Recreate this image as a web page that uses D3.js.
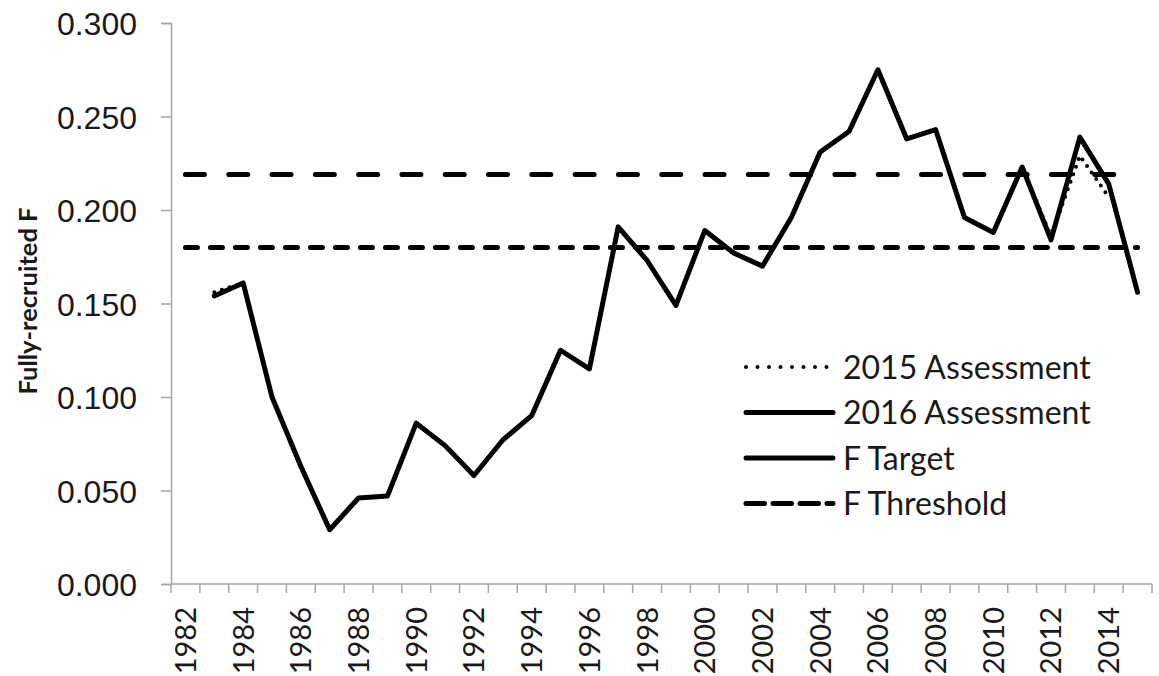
<!DOCTYPE html>
<html>
<head>
<meta charset="utf-8">
<script src="https://cdn.jsdelivr.net/npm/d3@7"></script>
<style>
  html, body { margin: 0; padding: 0; background: #fff; }
  svg { display: block; font-family: Lato, 'Open Sans', sans-serif; }
</style>
</head>
<body>
<svg id="chart" width="1159" height="676"></svg>
<script>
  'use strict';

  // Years on the category axis (labels every second year).
  var years = d3.range( 1982, 2016 );

  var years2016 = d3.range( 1983, 2016 ),
      f2016 = [ 0.154, 0.161, 0.100, 0.063, 0.029, 0.046, 0.047, 0.086, 0.074, 0.058,
                0.077, 0.090, 0.125, 0.115, 0.191, 0.173, 0.149, 0.189, 0.177, 0.170,
                0.196, 0.231, 0.242, 0.275, 0.238, 0.243, 0.196, 0.188, 0.223, 0.184,
                0.239, 0.214, 0.156 ];

  var years2015 = d3.range( 1983, 2015 ),
      f2015 = [ 0.156, 0.161, 0.100, 0.063, 0.029, 0.046, 0.047, 0.086, 0.074, 0.058,
                0.077, 0.090, 0.125, 0.115, 0.191, 0.173, 0.149, 0.189, 0.177, 0.170,
                0.196, 0.231, 0.242, 0.275, 0.238, 0.243, 0.196, 0.188, 0.223, 0.186,
                0.229, 0.207 ];

  var fTarget    = 0.180,
      fThreshold = 0.219;

  var yTicks = [ 0, 0.05, 0.10, 0.15, 0.20, 0.25, 0.30 ];

  var legendLabels = [ '2015 Assessment', '2016 Assessment', 'F Target', 'F Threshold' ];

  var plotLeft = 171, plotRight = 1152, plotTop = 23, plotBottom = 584;
  var ink = '#1a1a1a', axisGrey = '#a6a6a6';

  var svg = d3.select( '#chart' );

  var x = d3.scaleBand()
    .domain( years )
    .range( [ plotLeft, plotRight ] );

  var y = d3.scaleLinear()
    .domain( [ 0, 0.3 ] )
    .range( [ plotBottom, plotTop ] );

  function cx( yr ) {
    return x( yr ) + x.bandwidth() / 2;
  }

  // Y axis.
  var yAxis = svg.append( 'g' )
    .attr( 'transform', 'translate(' + plotLeft + ',0)' )
    .call( d3.axisLeft( y ).tickValues( yTicks ).tickSize( 10 ).tickPadding( 24 )
      .tickFormat( d3.format( '.3f' ) ) );

  yAxis.select( '.domain' ).attr( 'stroke', axisGrey ).attr( 'stroke-width', 1.5 );
  yAxis.selectAll( '.tick line' ).attr( 'stroke', axisGrey ).attr( 'stroke-width', 1.5 );
  yAxis.selectAll( '.tick text' )
    .attr( 'fill', ink )
    .style( 'font-size', '32px' )
    .attr( 'dy', '0.36em' );

  // X axis: ticks on category edges, labels in the middle.
  var xAxis = svg.append( 'g' );

  xAxis.append( 'line' )
    .attr( 'x1', plotLeft ).attr( 'x2', plotRight )
    .attr( 'y1', plotBottom ).attr( 'y2', plotBottom )
    .attr( 'stroke', axisGrey ).attr( 'stroke-width', 1.5 );

  xAxis.selectAll( 'line.tick' )
    .data( years.concat( [ 2016 ] ) )
    .enter().append( 'line' )
      .attr( 'class', 'tick' )
      .attr( 'x1', function( d ) { return d === 2016 ? plotRight : x( d ); } )
      .attr( 'x2', function( d ) { return d === 2016 ? plotRight : x( d ); } )
      .attr( 'y1', plotBottom )
      .attr( 'y2', plotBottom + 9 )
      .attr( 'stroke', axisGrey ).attr( 'stroke-width', 1.5 );

  xAxis.selectAll( 'text' )
    .data( years.filter( function( d ) { return d % 2 === 0; } ) )
    .enter().append( 'text' )
      .attr( 'transform', function( d ) {
        return 'translate(' + cx( d ) + ',' + ( plotBottom + 23 ) + ') rotate(-90)';
      })
      .attr( 'dy', '0.36em' )
      .style( 'text-anchor', 'end' )
      .style( 'font-size', '29px' )
      .attr( 'fill', ink )
      .text( function( d ) { return d; } );

  // Axis title.
  svg.append( 'text' )
    .attr( 'transform', 'translate(37,301) rotate(-90)' )
    .style( 'text-anchor', 'middle' )
    .style( 'font-size', '25.5px' )
    .style( 'font-weight', 'bold' )
    .attr( 'fill', ink )
    .text( 'Fully-recruited F' );

  // Reference lines and series.
  var line = d3.line()
    .x( function( d ) { return cx( d[ 0 ] ); } )
    .y( function( d ) { return y( d[ 1 ] ); } );

  function flat( v ) {
    return years.map( function( yr ) { return [ yr, v ]; } );
  }

  var lines = svg.append( 'g' )
    .attr( 'fill', 'none' )
    .attr( 'stroke', '#000' )
    .attr( 'stroke-linecap', 'round' )
    .attr( 'stroke-linejoin', 'round' );

  lines.append( 'path' )
    .attr( 'd', line( flat( fThreshold ) ) )
    .attr( 'stroke-width', 5 )
    .attr( 'stroke-dasharray', '19,24.3' );

  lines.append( 'path' )
    .attr( 'd', line( flat( fTarget ) ) )
    .attr( 'stroke-width', 5 )
    .attr( 'stroke-dasharray', '12,13' );

  lines.append( 'path' )
    .attr( 'd', line( d3.zip( years2016, f2016 ) ) )
    .attr( 'stroke-width', 5 );

  lines.append( 'path' )
    .attr( 'd', line( d3.zip( years2015, f2015 ) ) )
    .attr( 'stroke-width', 4 )
    .attr( 'stroke-dasharray', '0,8' );

  // Legend.
  var legendStyles = [
    { width: 4, dash: '0,11.5' },
    { width: 5, dash: null },
    { width: 5, dash: null },
    { width: 5, dash: '18.5,8.5' }
  ];

  var legend = svg.append( 'g' )
    .selectAll( 'g' )
    .data( legendLabels )
    .enter().append( 'g' )
      .attr( 'transform', function( d, i ) {
        return 'translate(745,' + ( 367 + i * 45.5 ) + ')';
      });

  legend.append( 'line' )
    .attr( 'x1', 1 ).attr( 'x2', 88 )
    .attr( 'stroke', '#000' )
    .attr( 'stroke-linecap', 'round' )
    .attr( 'stroke-width', function( d, i ) { return legendStyles[ i ].width; } )
    .attr( 'stroke-dasharray', function( d, i ) { return legendStyles[ i ].dash; } );

  legend.append( 'text' )
    .attr( 'x', 98 )
    .attr( 'dy', '0.36em' )
    .style( 'font-size', '32px' )
    .attr( 'fill', ink )
    .text( function( d ) { return d; } );
</script>
</body>
</html>
